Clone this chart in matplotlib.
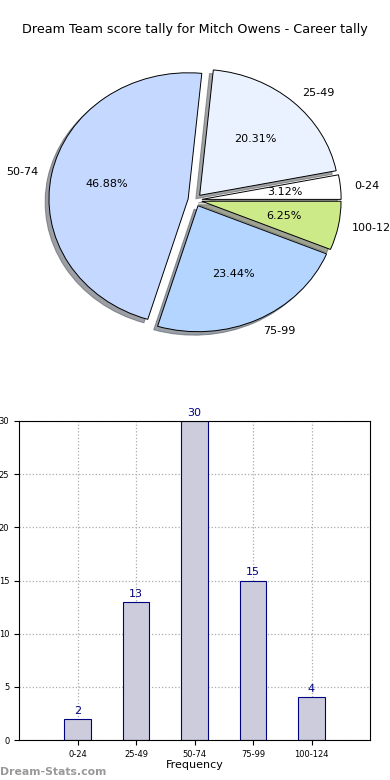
import matplotlib
matplotlib.use("Agg")
import matplotlib.pyplot as plt

categories = ["0-24", "25-49", "50-74", "75-99", "100-124"]
counts = [2, 13, 30, 15, 4]
pie_colors = ["#ffffff", "#ebf2ff", "#c5d8ff", "#b3d5ff", "#cdea88"]
title = "Dream Team score tally for Mitch Owens - Career tally"

fig = plt.figure(figsize=(3.9, 7.8), dpi=100)
fig.text(0.5, 1 - 30 / 780, title, ha="center", va="center", fontsize=9.2)

ax1 = fig.add_axes([21 / 390, (780 - 357.5) / 780, 348 / 390, 315 / 780])
wedges, texts, autotexts = ax1.pie(
    counts, labels=categories, colors=pie_colors, explode=[0.05] * 5,
    autopct="%.2f%%", shadow=True, startangle=0,
    wedgeprops=dict(edgecolor="black", linewidth=0.7),
    textprops=dict(fontsize=8))
ax1.set_aspect("auto")
ax1.set_xlim(-1.25, 1.25)
ax1.set_ylim(-1.25, 1.25)

ax2 = fig.add_axes([19 / 390, 40 / 780, 351 / 390, 319 / 780])
x = list(range(len(categories)))
bars = ax2.bar(x, counts, width=0.45, color="#ccccdd", edgecolor="#000080", linewidth=0.8, zorder=2)
for xi, c in zip(x, counts):
    ax2.text(xi, c + 0.3, str(c), ha="center", va="bottom", fontsize=8, color="#000080")
ax2.set_xlim(-1, 5)
ax2.set_ylim(0, 30)
ax2.set_xticks(x)
ax2.set_xticklabels(categories, fontsize=6)
ax2.set_yticks([0, 5, 10, 15, 20, 25, 30])
ax2.tick_params(axis="y", labelsize=6)
ax2.grid(True, linestyle=":", color="#aaaaaa", linewidth=0.9, zorder=0)
ax2.set_axisbelow(True)
ax2.set_xlabel("Frequency", fontsize=8, labelpad=1)
ax2.set_ylabel("Score Tally", fontsize=8)

fig.text(0.0, 0.004, "Dream-Stats.com", fontsize=7.8, color="#999999", fontweight="bold", ha="left", va="bottom")

fig.savefig("out.png", dpi=100)
